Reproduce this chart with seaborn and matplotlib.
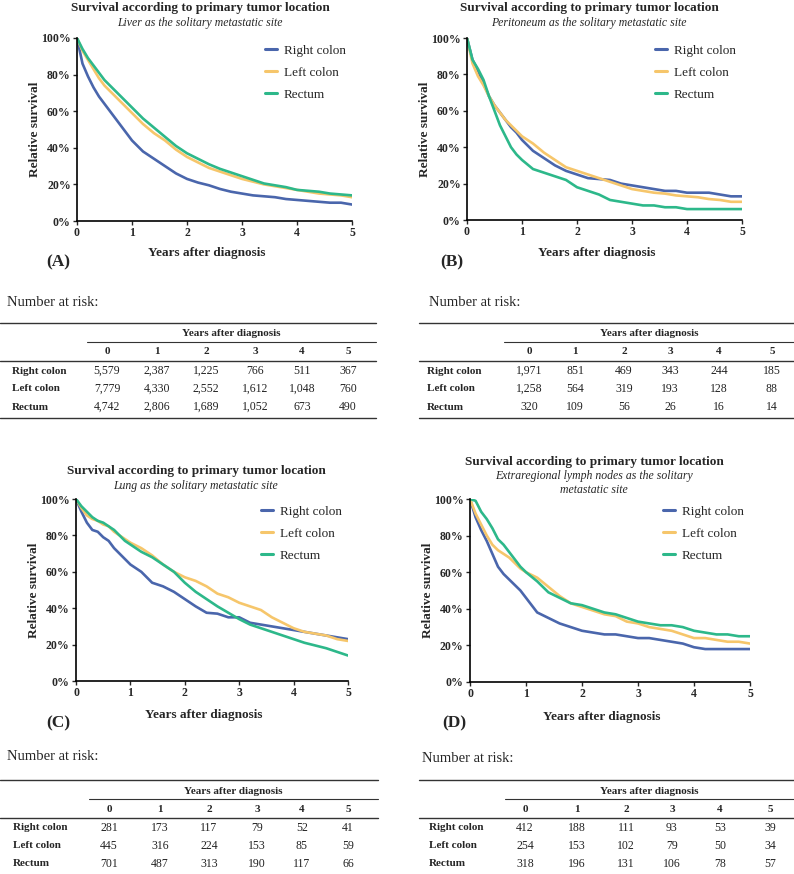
import numpy as np
import pandas as pd
import matplotlib
matplotlib.use('Agg')
import matplotlib.pyplot as plt
from matplotlib.lines import Line2D
from matplotlib.ticker import FuncFormatter
import seaborn as sns

sns.set_style('ticks')
plt.rcParams['font.family'] = ['Liberation Serif', 'DejaVu Serif']

W, H = 794, 874

# 데이터
sites = ['Right colon', 'Left colon', 'Rectum']
colors = ['#4A66AC', '#F6C66B', '#2DB88A']

years_grid = [0, 0.1, 0.2, 0.3, 0.4, 0.5, 0.6, 0.7, 0.8, 0.9, 1.0,
              1.2, 1.4, 1.6, 1.8, 2.0, 2.2, 2.4, 2.6, 2.8, 3.0,
              3.2, 3.4, 3.6, 3.8, 4.0, 4.2, 4.4, 4.6, 4.8, 5.0]

liver_right = [100, 86, 79, 73, 68, 64, 60, 56, 52, 48, 44, 38, 34, 30, 26, 23, 21, 19.5, 17.5, 16, 15,
               14, 13.5, 13, 12, 11.5, 11, 10.5, 10, 10, 9]
liver_left = [100, 93, 88, 83, 78, 74, 71, 68, 65, 62, 59, 53, 48, 44, 39, 35, 32, 29, 27, 25, 23,
              21.5, 20, 19, 18, 17, 16, 15, 14.5, 14, 13]
liver_rectum = [100, 94, 89, 85, 81, 77, 74, 71, 68, 65, 62, 56, 51, 46, 41, 37, 34, 31, 28.5, 26.5, 24.5,
                22.5, 20.5, 19.5, 18.5, 17, 16.5, 16, 15, 14.5, 14]

perit_right = [100, 88, 82, 75, 68, 63, 59, 55, 51, 48, 44, 38, 34, 30, 27, 25, 23, 22.5, 22, 20, 19,
               18, 17, 16, 16, 15, 15, 15, 14, 13, 13]
perit_left = [100, 86, 79, 74, 68, 63, 59, 55, 52, 49, 46, 42, 37, 33, 29, 27, 25, 23, 21, 19, 17,
              16, 15, 14.5, 13.5, 13, 12.5, 11.5, 11, 10, 10]
perit_rectum = [100, 88, 83, 77, 68, 60, 52, 46, 40, 36, 33, 28, 26, 24, 22, 18, 16, 14, 11, 10, 9,
                8, 8, 7, 7, 6, 6, 6, 6, 6, 6]

lung_right = [100, 93, 87, 83, 82, 79, 77, 73, 70, 67, 64, 60, 54, 52, 49, 45, 41, 37.5, 37, 35, 35,
              32, 31, 30, 29, 28, 27, 26, 25, 24, 23]
lung_left = [100, 95, 91, 89, 88, 86, 85, 82, 80, 78, 76, 73, 69, 64, 60, 57, 55, 52, 48, 46, 43,
             41, 39, 35, 32, 29, 27, 26, 25, 23, 22]
lung_rectum = [100, 96, 93, 90, 88, 87, 85, 83, 80, 77, 75, 71, 68, 64, 60, 54, 49, 45, 41, 37.5, 34,
               31, 29, 27, 25, 23, 21, 19.5, 18, 16, 14]

lymph_right = [100, 90, 83, 77, 70, 63, 59, 56, 53, 50, 46, 38, 35, 32, 30, 28, 27, 26, 26, 25, 24,
               24, 23, 22, 21, 19, 18, 18, 18, 18, 18]
lymph_left = [100, 92, 86, 80, 75, 72, 70, 68, 65, 62, 60, 57, 52, 47, 43, 41, 39, 37, 36, 33, 32,
              30, 29, 28, 26, 24, 24, 23, 22, 22, 21]
lymph_rectum = [100, 99, 93, 89, 84, 78, 75, 71, 67, 63, 60, 55, 49, 46, 43, 42, 40, 38, 37, 35, 33,
                32, 31, 31, 30, 28, 27, 26, 26, 25, 25]

# Number at risk
risk_years = ['0', '1', '2', '3', '4', '5']
liver_risk = [['5,579', '2,387', '1,225', '766', '511', '367'],
              ['7,779', '4,330', '2,552', '1,612', '1,048', '760'],
              ['4,742', '2,806', '1,689', '1,052', '673', '490']]
perit_risk = [['1,971', '851', '469', '343', '244', '185'],
              ['1,258', '564', '319', '193', '128', '88'],
              ['320', '109', '56', '26', '16', '14']]
lung_risk = [['281', '173', '117', '79', '52', '41'],
             ['445', '316', '224', '153', '85', '59'],
             ['701', '487', '313', '190', '117', '66']]
lymph_risk = [['412', '188', '111', '93', '53', '39'],
              ['254', '153', '102', '79', '50', '34'],
              ['318', '196', '131', '106', '78', '57']]

subtitles = ['Liver as the solitary metastatic site',
             'Peritoneum as the solitary metastatic site',
             'Lung as the solitary metastatic site',
             'Extraregional lymph nodes as the solitary\nmetastatic site']
panel_tags = ['(A)', '(B)', '(C)', '(D)']

curves = [(liver_right, liver_left, liver_rectum),
          (perit_right, perit_left, perit_rectum),
          (lung_right, lung_left, lung_rectum),
          (lymph_right, lymph_left, lymph_rectum)]
risks = [liver_risk, perit_risk, lung_risk, lymph_risk]

# 레이아웃 (픽셀 단위)
axes_px = [(77, 38, 352, 221), (467, 38, 742, 220), (76, 499, 348, 681), (470, 499, 750, 682)]
title_px = [(200, 8), (589, 8), (196, 471), (594, 462)]
sub_px = [(200, 23), (589, 23), (196, 486), (594, 483)]
tag_px = [(58, 262), (452, 262), (58, 723), (454, 723)]
xlab_px = [(207, 253), (597, 253), (204, 715), (602, 717)]
nar_px = [(7, 303), (429, 303), (7, 757), (422, 758)]
# table: x0, x1, header line start, label x, column centres, top line y
table_px = [
    (0, 376, 87, 12, [107, 157, 206, 255, 302, 348], 323),
    (419, 794, 504, 427, [529, 575, 624, 670, 719, 772], 323),
    (0, 378, 89, 13, [109, 160, 209, 257, 302, 348], 780),
    (419, 794, 505, 429, [525, 577, 626, 672, 720, 770], 780),
]


def fx(x):
    return x / W


def fy(y):
    return 1 - y / H


fig = plt.figure(figsize=(W / 100, H / 100), dpi=100)

for i in range(4):
    l, t, r, b = axes_px[i]
    ax = fig.add_axes([fx(l), fy(b), (r - l) / W, (b - t) / H])

    rows = []
    for site, vals in zip(sites, curves[i]):
        for yr, v in zip(years_grid, vals):
            rows.append({'year': yr, 'survival': v, 'site': site})
    df = pd.DataFrame(rows)

    sns.lineplot(data=df, x='year', y='survival', hue='site', hue_order=sites,
                 palette=colors, estimator=None, linewidth=1.9, ax=ax)

    ax.set_xlim(0, 5)
    ax.set_ylim(0, 100)
    ax.set_xticks(range(6))
    ax.set_yticks(range(0, 101, 20))
    ax.yaxis.set_major_formatter(FuncFormatter(lambda v, p: f'{int(v)}%'))
    for lab in ax.get_xticklabels() + ax.get_yticklabels():
        lab.set_fontweight('bold')
        lab.set_fontsize(8.5)
    ax.tick_params(length=3, width=1, pad=1.5)
    sns.despine(ax=ax)
    for s in ['left', 'bottom']:
        ax.spines[s].set_linewidth(1.2)
        ax.spines[s].set_color('black')
    ax.margins(0)
    ax.set_xlabel('')
    ax.set_ylabel('Relative survival', fontsize=9.5, fontweight='bold', labelpad=0)

    handles = [Line2D([], [], color=c, lw=2.2) for c in colors]
    ax.legend(handles, sites, loc='upper right', bbox_to_anchor=(1.02, 1.03), frameon=False,
              fontsize=9.5, handlelength=0.9, handletextpad=0.5, labelspacing=0.75)

    fig.text(fx(title_px[i][0]), fy(title_px[i][1]), 'Survival according to primary tumor location',
             ha='center', va='center', fontsize=9.5, fontweight='bold')
    fig.text(fx(sub_px[i][0]), fy(sub_px[i][1]), subtitles[i], ha='center', va='center',
             fontsize=8.5, style='italic', linespacing=1.25)
    fig.text(fx(tag_px[i][0]), fy(tag_px[i][1]), panel_tags[i], ha='center', va='center',
             fontsize=12.5, fontweight='bold')
    fig.text(fx(xlab_px[i][0]), fy(xlab_px[i][1]), 'Years after diagnosis', ha='center',
             va='center', fontsize=9.5, fontweight='bold')
    fig.text(fx(nar_px[i][0]), fy(nar_px[i][1]), 'Number at risk:', ha='left', va='center',
             fontsize=10.5)

    # 표
    x0, x1, hx, lx, cols, ty = table_px[i]
    lines = [(x0, ty, 1.0), (hx, ty + 19, 0.8), (x0, ty + 38, 1.0), (x0, ty + 95, 1.0)]
    for xs, yy, lw in lines:
        fig.add_artist(Line2D([fx(xs), fx(x1)], [fy(yy), fy(yy)], color='#333333', lw=lw))
    fig.text(fx((hx + x1) / 2), fy(ty + 11), 'Years after diagnosis', ha='center', va='center',
             fontsize=8, fontweight='bold')
    for c, yr in zip(cols, risk_years):
        fig.text(fx(c), fy(ty + 29), yr, ha='center', va='center', fontsize=8, fontweight='bold')
    for k, site in enumerate(sites):
        yy = ty + 48 + k * 18
        fig.text(fx(lx), fy(yy), site, ha='left', va='center', fontsize=8, fontweight='bold')
        for c, val in zip(cols, risks[i][k]):
            fig.text(fx(c), fy(yy), val, ha='center', va='center', fontsize=8.5, color='#222222')

fig.savefig('out.png', dpi=100)
